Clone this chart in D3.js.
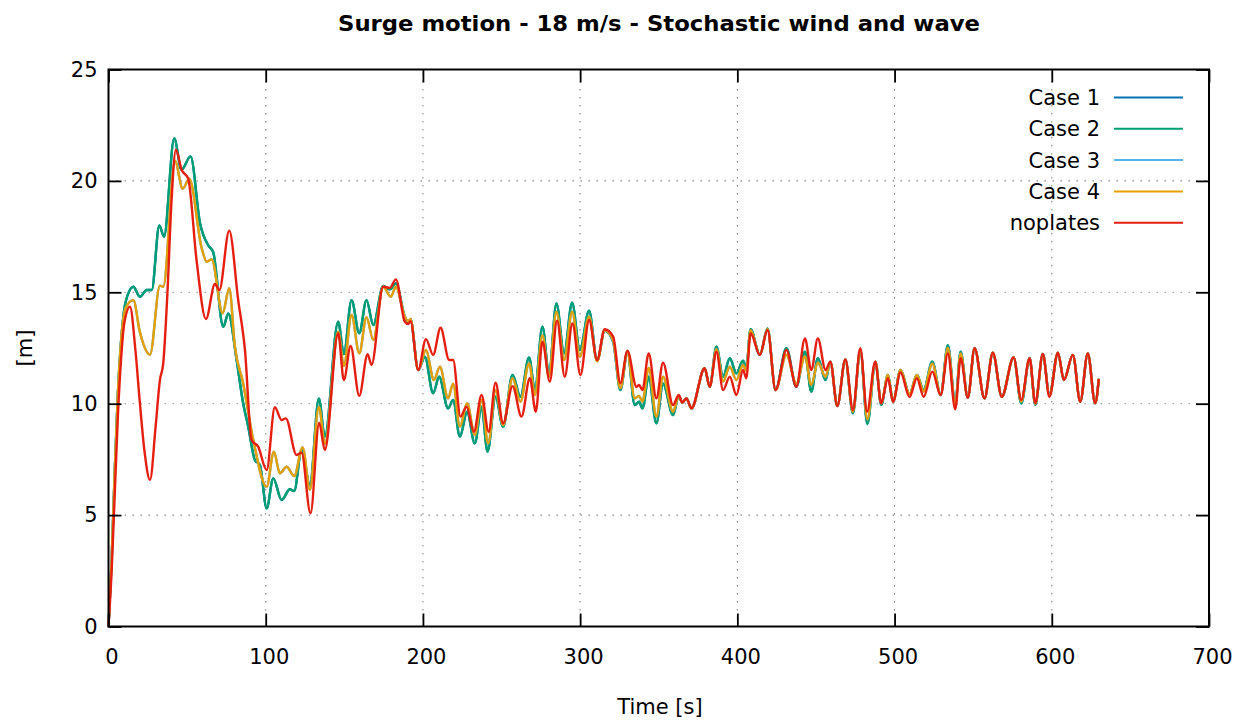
<!DOCTYPE html>
<html><head><meta charset="utf-8">
<script src="https://cdn.jsdelivr.net/npm/d3@7"></script>
<style>body{margin:0;background:#fff}svg{display:block}</style>
</head><body>
<svg id="chart" width="1244" height="723"></svg>
<script>
// ---------- data ----------
const xTicks = [0, 100, 200, 300, 400, 500, 600, 700];
const yTicks = [0, 5, 10, 15, 20, 25];
const seriesNames = ["Case 1", "Case 2", "Case 3", "Case 4", "noplates"];
const seriesColors = ["#0072b2", "#009e73", "#56b4e9", "#e69f00", "#e51e10"];

// Case 1 and Case 2 coincide in the picture (green hides blue)
const case12Time = [0,2,4,6,8,11,15.8,20,24.3,27.5,32.3,35.3,41.8,46.5,52.2,58.2,63.5,66.6,73,76.2,81.5,85.7,88.9,93.1,96.3,100.6,104.8,110.1,115.4,118.1,122.8,128.1,133.8,137.6,146.1,149.7,154.6,159.5,164.1,168.4,174.7,179,182.8,188.5,190.6,192.1,197,201.2,206.5,210.3,216,219.2,223.5,228.1,233,237.3,241.1,246.2,251,257,262,267.5,271.2,276,280.2,284.9,289.8,294.9,299.8,305.7,310.8,315.6,321,325.6,330.1,334.7,337.5,339.6,343.6,348.5,352.7,359.1,362.7,365,367.6,370.8,379.2,382.4,386.7,390.9,395.2,399.4,403.6,405.7,408.4,414.3,419.2,424.3,431.2,437.5,443,447,451.2,456.1,459.1,463.6,468.7,473.5,478.2,482.7,487.8,491.5,495.8,499,503.8,509.5,514.2,518.5,524,529.3,533.9,538.6,542,546.6,550.9,557.2,562.5,568.2,575.7,580.6,585.9,589.5,594.3,598.5,603.9,607.7,613.4,618.1,622.9,627.6,629.9];
const case12Surge = [0,3,7,10.5,12.8,14.6,15.25,14.8,15.1,15.1,18.0,17.5,21.9,20.5,21.1,18.1,17.1,16.8,13.45,14.05,11.96,10.0,8.97,7.47,7.25,5.3,6.65,5.68,6.16,6.08,7.92,6.35,10.24,8.52,13.68,12.23,14.65,13.16,14.65,13.53,15.28,15.13,15.4,13.9,13.63,13.79,11.51,12.11,10.47,11.21,9.79,10.17,8.52,9.64,8.22,9.87,7.85,10.31,8.97,11.29,10.31,12.08,10.61,13.46,11.36,14.5,12.26,14.53,12.41,14.17,11.92,13.28,12.78,10.61,12.33,9.94,10.09,9.79,11.21,9.12,10.9,9.49,10.35,10.05,10.24,9.79,11.59,10.76,12.56,11.21,12.04,11.36,11.93,11.63,13.34,12.19,13.38,10.61,12.49,10.76,12.33,10.54,12.04,11.06,11.89,9.9,11.99,9.57,12.41,9.09,11.89,9.95,11.29,10.09,11.51,10.44,11.29,10.61,11.89,10.39,12.63,10.0,12.33,10.27,12.49,10.24,12.29,10.31,12.08,10.02,12.04,9.95,12.23,10.4,12.29,11.06,12.19,10.09,12.26,10.02,11.11];

// Case 3 and Case 4 coincide in the picture (orange hides light blue)
const case34Time = [0,2,4,6,8,11,15.8,20,26.4,32.7,34.8,42.3,47.2,51.4,59.3,62.5,65.6,72.6,76.8,80.4,85.7,92.1,100.6,105.2,109,113.3,118.1,123.5,128.1,133.8,137.6,146.1,149.7,154.6,159.5,164.1,168.4,174.7,179.6,182.8,188.5,190.6,192.1,197,201.9,207,210.8,216,219.2,223.5,228.1,233,237.3,241.5,246.2,251,257,262,267.5,271.2,276,280.2,284.9,289.8,294.9,299.8,305.7,310.8,315.6,321,325.6,330.1,334.7,337.5,339.6,343.6,348.5,352.7,359.1,362.7,365,367.6,370.8,379.2,382.4,386.7,390.9,395.2,399.4,403.6,405.7,408.4,414.3,419.2,424.3,431.2,437.5,443,447,451.2,456.1,459.1,463.6,468.7,473.5,478.2,482.7,487.8,491.5,495.8,499,503.8,509.5,514.2,518.5,524,529.3,533.9,538.6,542,546.6,550.9,557.2,562.5,568.2,575.7,580.6,585.9,589.5,594.3,598.5,603.9,607.7,613.4,618.1,622.9,627.6,629.9];
const case34Surge = [0,3,7,10.5,12.8,14.3,14.65,13.2,12.2,15.3,15.25,20.9,19.65,20.1,16.97,16.37,16.48,14.06,15.18,12.56,10.9,8.37,6.27,7.85,6.88,7.17,6.75,8.04,6.13,9.87,8.2,13.23,11.69,13.98,12.26,13.88,12.86,15.25,14.8,15.25,13.9,13.7,13.8,11.51,12.41,11.06,11.66,10.24,10.9,8.97,10.02,8.6,10.17,8.22,10.61,9.04,11.14,10.09,11.81,10.39,13.08,11.21,14.13,11.96,14.13,12.11,13.9,11.9,13.3,12.85,10.7,12.33,10.24,10.35,10.09,11.6,9.42,11.21,9.64,10.35,10.05,10.24,9.79,11.59,10.76,12.45,11.0,11.66,11.06,11.74,11.49,13.3,12.19,13.36,10.61,12.19,10.9,12.11,10.84,11.84,11.21,11.89,9.9,11.99,9.64,12.41,9.3,11.89,10.02,11.29,10.09,11.51,10.44,11.29,10.55,11.8,10.39,12.5,9.95,12.25,10.27,12.49,10.24,12.29,10.31,12.08,10.1,12.04,10.0,12.23,10.35,12.29,11.06,12.19,10.09,12.26,10.02,11.11];

const noplatesTime = [0,2,4,6,8,10,13.7,17,20,23,26.4,30,32.7,34.8,37.5,40,42.9,46.5,50.7,56,62,67.7,70.5,76.8,82.5,86.8,91,95.2,100.6,105.8,110.1,112.8,119.6,122.8,128.5,134,137.6,146.1,149.7,154,159.5,164.8,167.3,174.7,179,182.8,188.5,190.6,192.1,197,201.9,206.5,211.2,216.7,219.2,223.9,227.7,232.4,237.3,241.8,246.2,251,257,262.7,268,271.8,276,280.7,285.3,290.2,295.1,300.2,305.7,310.8,315.6,321,325.6,330.1,335.8,337.5,339.6,343.6,348.5,352.7,359.1,362.7,365,367.6,370.8,379.2,382.4,386.7,390.9,395.2,399.4,403.6,405.7,408.4,414.3,419.2,424.3,431.2,437.5,443,447,451.2,456.1,459.1,463.6,468.7,473.5,478.2,482.5,487.7,491.5,495.8,499,503.8,509.5,514.2,518.5,524,529.3,533.9,538.6,542,546.6,550.9,557.2,562.5,568.2,575.7,580.6,585.9,589.5,594.3,598.5,603.9,607.7,613.4,618.1,622.9,627.6,629.9];
const noplatesSurge = [0,2.5,6,9.5,12,13.6,14.35,12.5,10,7.8,6.58,9,11.06,11.8,15,19,21.4,20.5,20.1,16.45,13.8,15.37,15.1,17.77,14.65,12.4,8.37,8.07,7.02,9.84,9.27,9.34,7.7,7.8,5.08,9.15,7.92,13.16,11.06,12.59,10.35,12.22,11.74,15.25,15.2,15.58,13.68,13.58,13.7,11.51,12.9,12.19,13.41,11.96,11.96,9.42,9.87,8.74,10.39,8.74,10.94,9.12,10.79,9.42,11.14,9.64,12.78,10.99,13.73,11.21,13.6,11.29,13.76,11.96,13.34,13.01,10.92,12.38,10.76,10.84,10.61,12.26,10.24,11.84,9.94,10.39,10.05,10.24,9.79,11.59,10.76,12.33,10.61,11.21,10.39,11.51,11.14,13.16,12.19,13.31,10.61,12.41,10.76,12.93,11.51,12.93,11.51,11.89,9.9,11.99,9.72,12.49,9.64,11.89,10.02,11.14,10.09,11.4,10.3,11.14,10.31,11.44,10.39,12.26,9.75,12.04,10.27,12.49,10.24,12.29,10.31,12.08,10.17,12.04,10.02,12.23,10.31,12.29,11.06,12.19,10.09,12.26,10.02,11.11];

// ---------- chart ----------
const svg = d3.select("#chart");
const L = 108.5, R = 1209, T = 69.5, B = 626.5;
const x = d3.scaleLinear().domain([0, 700]).range([L, R]);
const y = d3.scaleLinear().domain([0, 25]).range([B, T]);
const FONT = "DejaVu Sans, Tahoma, sans-serif";

// grid
const grid = svg.append("g").attr("stroke", "#8a8a8a").attr("stroke-width", 1.1)
  .attr("stroke-dasharray", "1.5,6.5").attr("fill", "none");
xTicks.filter(d => d > 0 && d < 700).forEach(d => {
  grid.append("line").attr("x1", x(d)).attr("x2", x(d)).attr("y1", B).attr("y2", T);
});
yTicks.filter(d => d > 0 && d < 25).forEach(d => {
  grid.append("line").attr("x1", L).attr("x2", R).attr("y1", y(d)).attr("y2", y(d));
});

// series
const seriesData = [
  {t: case12Time, v: case12Surge},
  {t: case12Time, v: case12Surge},
  {t: case34Time, v: case34Surge},
  {t: case34Time, v: case34Surge},
  {t: noplatesTime, v: noplatesSurge}
];
const line = d3.line().x(d => x(d[0])).y(d => y(d[1])).curve(d3.curveMonotoneX);
seriesData.forEach((s, i) => {
  svg.append("path")
    .datum(s.t.map((t, k) => [t, s.v[k]]))
    .attr("d", line)
    .attr("fill", "none")
    .attr("stroke", seriesColors[i])
    .attr("stroke-width", 2.4)
    .attr("stroke-linejoin", "round");
});

// axes (gnuplot-like: inward ticks, mirrored)
const xAxisB = d3.axisBottom(x).tickValues(xTicks).tickSizeInner(-13).tickSizeOuter(0).tickPadding(23);
const xAxisT = d3.axisTop(x).tickValues(xTicks).tickSizeInner(-13).tickSizeOuter(0).tickFormat("");
const yAxisL = d3.axisLeft(y).tickValues(yTicks).tickSizeInner(-13).tickSizeOuter(0).tickPadding(11);
const yAxisR = d3.axisRight(y).tickValues(yTicks).tickSizeInner(-13).tickSizeOuter(0).tickFormat("");

function styleAxis(g) {
  g.select(".domain").remove();
  g.selectAll(".tick line").attr("stroke", "#000").attr("stroke-width", 1.8);
  g.selectAll("text").attr("font-family", FONT).attr("font-size", 21).attr("fill", "#000");
}
svg.append("g").attr("transform", `translate(0,${B})`).call(xAxisB).call(styleAxis)
  .selectAll("text").attr("dx", 3);
svg.append("g").attr("transform", `translate(0,${T})`).call(xAxisT).call(styleAxis);
svg.append("g").attr("transform", `translate(${L},0)`).call(yAxisL).call(styleAxis);
svg.append("g").attr("transform", `translate(${R},0)`).call(yAxisR).call(styleAxis);

// border
svg.append("rect").attr("x", L).attr("y", T).attr("width", R - L).attr("height", B - T)
  .attr("fill", "none").attr("stroke", "#000").attr("stroke-width", 2);

// title & labels
svg.append("text").attr("x", 659).attr("y", 31).attr("text-anchor", "middle")
  .attr("font-family", FONT).attr("font-weight", "bold").attr("font-size", 22)
  .attr("textLength", 642).attr("lengthAdjust", "spacingAndGlyphs")
  .text("Surge motion - 18 m/s - Stochastic wind and wave");
svg.append("text").attr("x", 660).attr("y", 714).attr("text-anchor", "middle")
  .attr("font-family", FONT).attr("font-size", 21).text("Time [s]");
svg.append("text").attr("transform", "translate(32,348) rotate(-90)").attr("text-anchor", "middle")
  .attr("font-family", FONT).attr("font-size", 21).text("[m]");

// legend
const legY0 = 97.5, legDY = 31.3;
seriesNames.forEach((n, i) => {
  const yy = legY0 + i * legDY;
  svg.append("text").attr("x", 1100).attr("y", yy).attr("dy", "0.36em").attr("text-anchor", "end")
    .attr("font-family", FONT).attr("font-size", 21).text(n);
  svg.append("line").attr("x1", 1114).attr("x2", 1183).attr("y1", yy).attr("y2", yy)
    .attr("stroke", seriesColors[i]).attr("stroke-width", 2);
});
</script>
</body></html>
